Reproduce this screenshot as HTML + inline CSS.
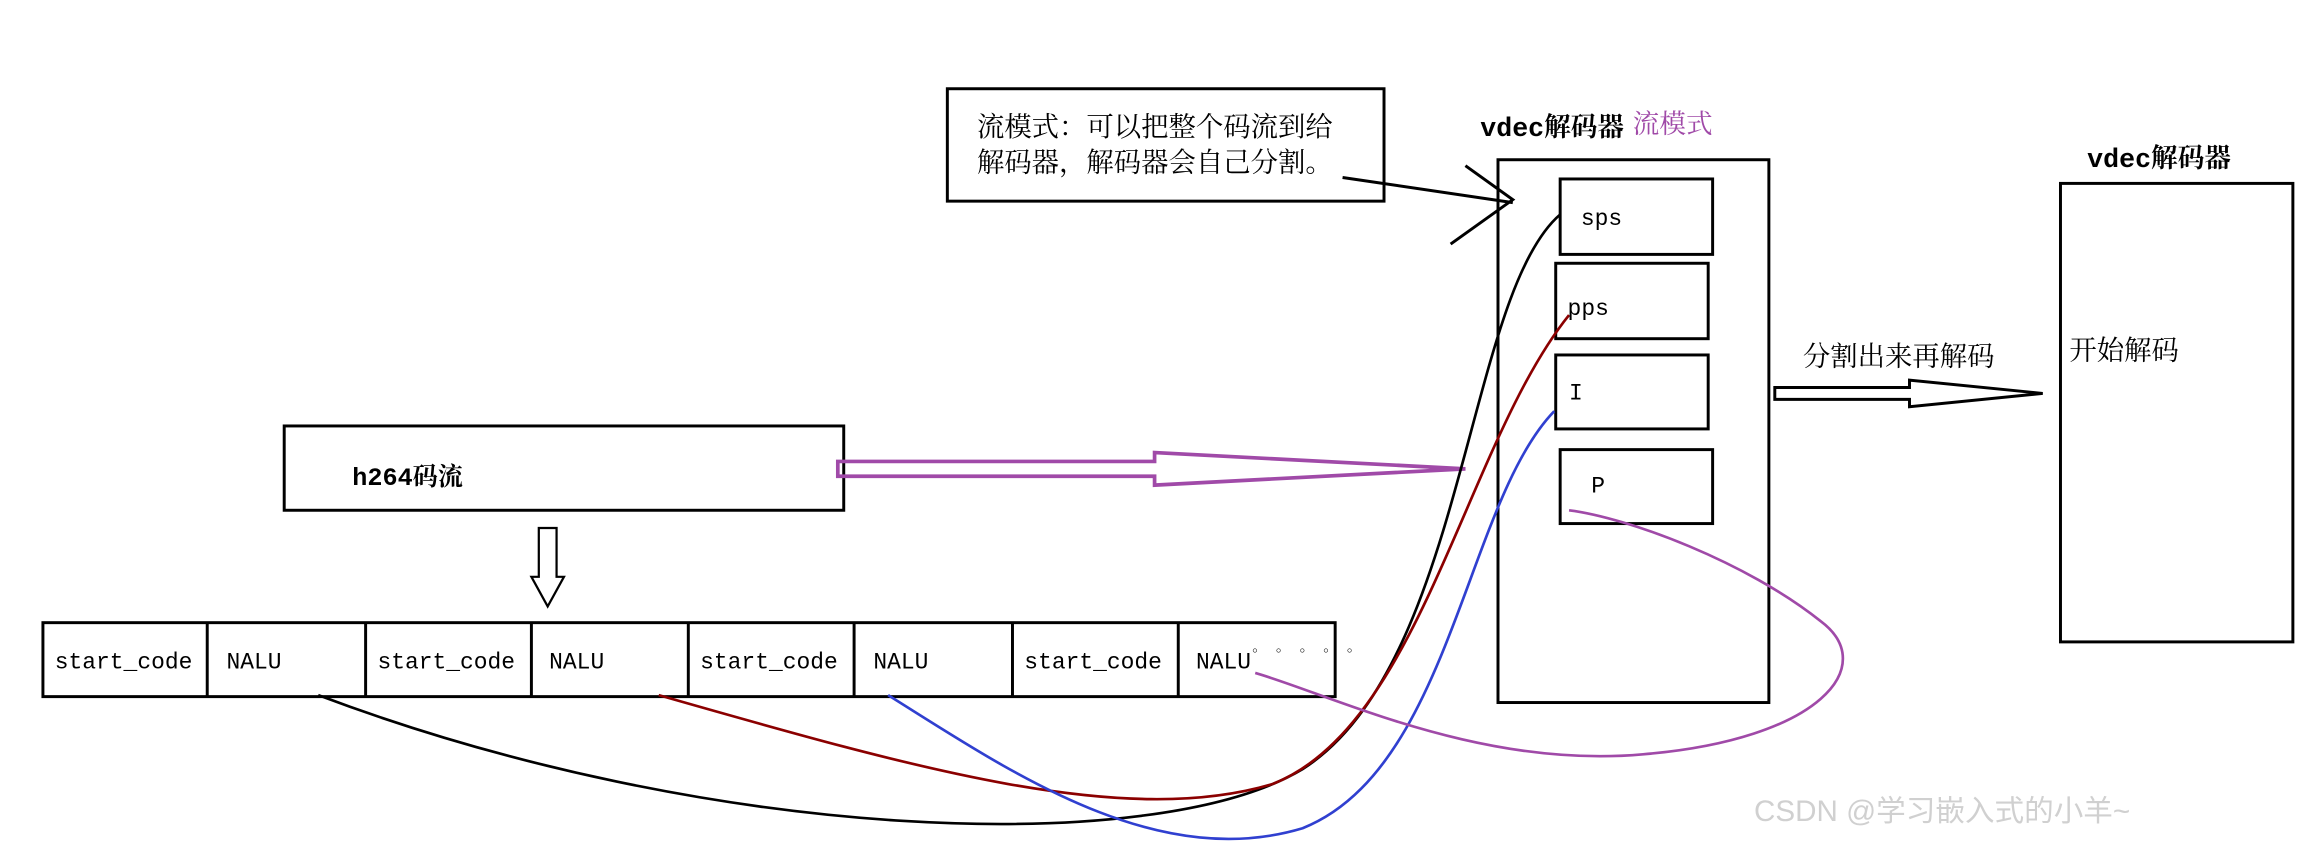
<!DOCTYPE html>
<html><head><meta charset="utf-8"><style>
html,body{margin:0;padding:0;background:#fff;}
svg{display:block}
text{font-family:"Liberation Mono","Noto Serif CJK SC",monospace;}
</style></head><body>
<svg width="2321" height="846" viewBox="0 0 1568 572" preserveAspectRatio="none" xmlns="http://www.w3.org/2000/svg">
<rect width="1568" height="572" fill="#fff"/>
<g fill="none" stroke="#000" stroke-width="2">
<rect x="640" y="60" width="295" height="76"/>
<rect x="1012" y="108" width="183" height="367"/>
<rect x="1054" y="121" width="103" height="51"/>
<rect x="1051" y="178" width="103" height="51"/>
<rect x="1051" y="240" width="103" height="50"/>
<rect x="1054" y="304" width="103" height="50"/>
<rect x="1392" y="124" width="157" height="310"/>
<rect x="192" y="288" width="378" height="57"/>
<rect x="29" y="421" width="873" height="50"/>
<path d="M140 421V471M247 421V471M359 421V471M465 421V471M577 421V471M684 421V471M796 421V471"/>
<path d="M907 120L1022 137M990 112L1022 135L980 165" stroke-width="2"/>
<path d="M364 357H376V390H381L370 410L359 390H364Z" stroke-width="1.5"/>
<path d="M1199 262H1290V257L1380 266L1290 275V270H1199Z" stroke-width="2"/>
</g>
<path d="M566 312H780V306L990 317L780 328V322H566Z" fill="none" stroke="#a04aa8" stroke-width="2.5"/>
<g fill="none" stroke-width="1.8">
<path d="M215 470C480 570 780 580 880 520C990 450 990 200 1054 145" stroke="#000"/>
<path d="M445 470C620 520 760 560 860 530C960 490 990 300 1060 213" stroke="#8b0000"/>
<path d="M600 470C680 520 780 590 880 560C980 520 990 340 1050 278" stroke="#3040d0"/>
<path d="M848 455C900 470 1000 520 1110 510C1230 500 1270 450 1230 420C1180 380 1100 350 1060 345" stroke="#a04aa8"/>
</g>
<g font-size="18.5" fill="#000">
<text x="660" y="92">流模式：可以把整个码流到给</text>
<text x="660" y="116">解码器，解码器会自己分割。</text>
<text x="1000" y="92" font-weight="bold" font-size="18">vdec解码器</text>
<text x="1103" y="90" fill="#a04aa8" font-size="18">流模式</text>
<text x="1410" y="113" font-weight="bold" font-size="18">vdec解码器</text>
<text x="1218" y="247">分割出来再解码</text>
<text x="1398" y="243">开始解码</text>
</g>
<g font-size="15.5" fill="#000">
<text x="1068" y="152">sps</text>
<text x="1059" y="213">pps</text>
<text x="1060" y="270">I</text>
<text x="1075" y="333">P</text>
<text x="238" y="328" font-weight="bold" font-size="17">h264码流</text>
<text x="37" y="452">start_code</text>
<text x="153" y="452">NALU</text>
<text x="255" y="452">start_code</text>
<text x="371" y="452">NALU</text>
<text x="473" y="452">start_code</text>
<text x="590" y="452">NALU</text>
<text x="692" y="452">start_code</text>
<text x="808" y="452">NALU</text>
</g>
<text x="846" y="440" font-size="10">。 。 。 。 。</text>
<text x="1185" y="555" font-size="20" fill="#d0d0d0" style="font-family:'Liberation Sans','Noto Sans CJK SC',sans-serif">CSDN @学习嵌入式的小羊~</text>
</svg>
</body></html>
